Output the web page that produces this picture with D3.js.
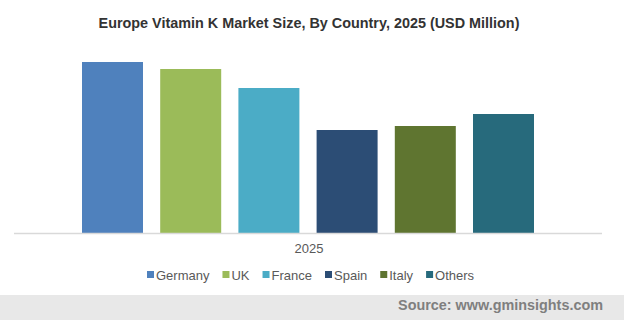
<!DOCTYPE html>
<html>
<head>
<meta charset="utf-8">
<script src="https://cdn.jsdelivr.net/npm/d3@7"></script>
<style>
  body { margin: 0; background: #fff; }
  svg { display: block; font-family: "Liberation Sans", Arial, sans-serif; }
</style>
</head>
<body>
<div id="chart"></div>
<script>
// data (no axis in the source, so values are relative)
var countries = ["Germany", "UK", "France", "Spain", "Italy", "Others"];
var values = [171, 164, 145, 103, 107, 119];
var colors = ["#4f81bd", "#9bbb59", "#4bacc6", "#2c4d75", "#5f7530", "#276a7c"];
var year = "2025";

var width = 624,
	height = 320;

var svg = d3.select("#chart")
	.append("svg")
	.attr("width", width)
	.attr("height", height);

// title
svg.append("text")
	.attr("x", 309)
	.attr("y", 28)
	.attr("text-anchor", "middle")
	.attr("font-size", 14.4)
	.attr("font-weight", "bold")
	.attr("fill", "#333")
	.text("Europe Vitamin K Market Size, By Country, 2025 (USD Million)");

var x_scale = d3.scaleBand()
	.domain(countries)
	.range([82, 534])
	.paddingInner(0.22)
	.paddingOuter(0);

var y_scale = d3.scaleLinear()
	.domain([0, d3.max(values)])
	.range([233, 62]);

var plot = svg.append("g").attr("class", "bars");

plot.selectAll("rect")
	.data(countries)
	.enter()
	.append("rect")
	.attr("x", function (d) { return x_scale(d) })
	.attr("y", function (d, i) { return y_scale(values[i]) })
	.attr("width", x_scale.bandwidth())
	.attr("height", function (d, i) { return y_scale(0) - y_scale(values[i]) })
	.attr("fill", function (d, i) { return colors[i] });

// baseline
svg.append("line")
	.attr("x1", 14)
	.attr("x2", 602)
	.attr("y1", y_scale(0) + 0.5)
	.attr("y2", y_scale(0) + 0.5)
	.attr("stroke", "#d9d9d9")
	.attr("stroke-width", 1.5);

svg.append("text")
	.attr("x", 309)
	.attr("y", 253)
	.attr("text-anchor", "middle")
	.attr("font-size", 13)
	.attr("fill", "#595959")
	.text(year);

// legend
var legend = svg.append("g").attr("class", "legend");
var lx = 147;
countries.forEach(function (c, i) {
	var item = legend.append("g").attr("transform", "translate(" + lx + ",0)");
	item.append("rect")
		.attr("x", 0)
		.attr("y", 271)
		.attr("width", 7)
		.attr("height", 7)
		.attr("fill", colors[i]);
	var t = item.append("text")
		.attr("x", 9)
		.attr("y", 280)
		.attr("font-size", 13)
		.attr("fill", "#595959")
		.text(c);
	lx += 9 + t.node().getComputedTextLength() + 13;
});

// source band
svg.append("rect")
	.attr("x", 0)
	.attr("y", 295)
	.attr("width", width)
	.attr("height", 25)
	.attr("fill", "#e8e8e8");

svg.append("text")
	.attr("x", 603)
	.attr("y", 310)
	.attr("text-anchor", "end")
	.attr("font-size", 14.4)
	.attr("font-weight", "bold")
	.attr("fill", "#7f7f7f")
	.text("Source: www.gminsights.com");
</script>
</body>
</html>
